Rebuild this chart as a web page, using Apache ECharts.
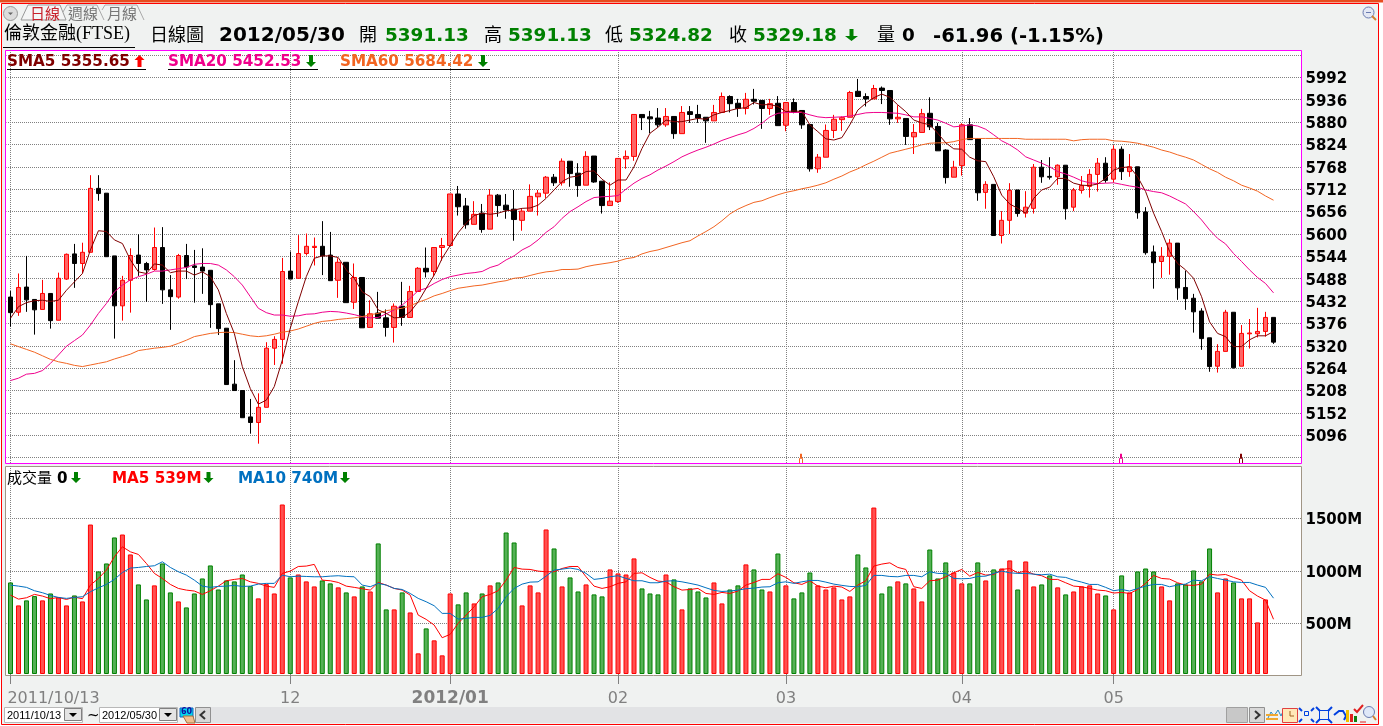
<!DOCTYPE html>
<html>
<head>
<meta charset="utf-8">
<title>FTSE</title>
<style>
  html, body { margin: 0; padding: 0; background: #fff; }
  #main { width: 1383px; height: 726px; }
</style>
<script src="https://cdn.jsdelivr.net/npm/echarts@6/dist/echarts.min.js"></script>
</head>
<body>
<div id="main"></div>
<script>
// [open, close, low, high]
const candles = [
  [5442,5403,5368,5457],[5404,5466,5395,5501],[5467,5435,5405,5545],[5436,5410,5348,5436],[5411,5451,5411,5485],
  [5451,5383,5363,5451],[5384,5489,5384,5503],[5487,5549,5485,5551],[5550,5526,5465,5575],[5526,5554,5501,5578],
  [5554,5714,5554,5747],[5714,5701,5683,5747],[5702,5543,5543,5702],[5545,5420,5338,5545],[5420,5484,5383,5495],
  [5484,5546,5403,5564],[5547,5526,5495,5599],[5526,5510,5430,5530],[5511,5566,5508,5616],[5566,5460,5425,5617],
  [5460,5443,5360,5497],[5442,5546,5438,5550],[5546,5517,5487,5575],[5520,5516,5428,5560],[5517,5507,5450,5564],
  [5509,5423,5365,5509],[5425,5363,5347,5425],[5364,5223,5223,5364],[5224,5208,5208,5284],[5208,5140,5140,5208],
  [5142,5128,5100,5187],[5128,5166,5075,5201],[5166,5314,5166,5329],[5314,5336,5272,5344],[5336,5506,5275,5540],
  [5507,5487,5487,5556],[5489,5551,5489,5597],[5551,5569,5546,5601],[5566,5569,5521,5591],[5569,5545,5497,5632],
  [5547,5483,5483,5605],[5484,5529,5440,5539],[5529,5428,5428,5529],[5429,5491,5412,5526],[5491,5365,5365,5491],
  [5366,5400,5366,5434],[5402,5389,5389,5455],[5390,5366,5343,5411],[5366,5419,5328,5426],[5419,5391,5370,5480],
  [5391,5456,5391,5470],[5456,5514,5456,5517],[5514,5505,5491,5566],[5506,5566,5495,5566],[5566,5571,5533,5590],
  [5571,5700,5571,5700],[5700,5668,5646,5720],[5670,5623,5613,5690],[5624,5649,5624,5682],[5652,5611,5603,5675],
  [5612,5697,5612,5712],[5697,5671,5643,5700],[5672,5660,5638,5700],[5662,5636,5583,5710],[5634,5657,5608,5663],
  [5657,5694,5657,5724],[5693,5702,5646,5710],[5702,5742,5690,5745],[5742,5728,5720,5750],[5728,5782,5721,5789],
  [5782,5751,5718,5782],[5752,5721,5693,5777],[5722,5794,5722,5807],[5795,5730,5728,5795],[5732,5671,5651,5732],
  [5671,5682,5671,5729],[5681,5789,5678,5789],[5788,5794,5763,5809],[5794,5899,5783,5899],[5899,5891,5860,5899],
  [5893,5888,5852,5908],[5890,5873,5867,5915],[5873,5894,5868,5915],[5894,5851,5838,5894],[5851,5904,5851,5920],
  [5906,5899,5878,5920],[5899,5890,5878,5923],[5892,5883,5828,5892],[5883,5904,5883,5923],[5904,5944,5904,5954],
  [5944,5926,5904,5947],[5927,5914,5893,5938],[5914,5937,5899,5953],[5937,5932,5924,5963],[5934,5914,5863,5934],
  [5914,5926,5898,5938],[5927,5871,5871,5945],[5872,5929,5857,5929],[5929,5904,5902,5939],[5909,5873,5863,5909],
  [5874,5763,5756,5874],[5763,5792,5753,5800],[5792,5859,5792,5874],[5859,5887,5840,5898],[5886,5891,5858,5894],
  [5892,5954,5892,5958],[5957,5944,5944,5988],[5944,5938,5919,5952],[5938,5964,5938,5973],[5965,5959,5925,5969],
  [5959,5888,5873,5959],[5888,5892,5878,5922],[5889,5844,5823,5889],[5843,5854,5800,5875],[5854,5901,5854,5913],
  [5902,5868,5860,5942],[5869,5808,5808,5878],[5810,5741,5726,5812],[5742,5767,5742,5783],[5771,5873,5746,5877],
  [5873,5836,5836,5890],[5838,5703,5683,5838],[5704,5724,5663,5732],[5724,5596,5596,5724],[5596,5634,5576,5657],
  [5634,5709,5600,5727],[5710,5651,5643,5710],[5652,5667,5641,5707],[5664,5767,5651,5775],[5767,5743,5728,5785],
  [5744,5742,5736,5792],[5743,5772,5723,5774],[5772,5663,5636,5772],[5667,5710,5657,5715],[5709,5721,5701,5745],
  [5719,5749,5691,5762],[5749,5777,5706,5790],[5777,5734,5728,5792],[5737,5812,5729,5822],[5812,5756,5735,5819],
  [5756,5768,5743,5800],[5768,5653,5638,5768],[5655,5553,5548,5667],[5555,5528,5463,5571],[5531,5544,5490,5567],
  [5544,5577,5498,5587],[5577,5465,5435,5577],[5466,5438,5410,5508],[5439,5405,5353,5450],[5407,5338,5310,5414],
  [5340,5268,5255,5340],[5269,5306,5253,5324],[5306,5404,5306,5410],[5404,5265,5263,5404],[5269,5351,5269,5372],
  [5350,5352,5313,5387],[5350,5356,5341,5415],[5356,5391,5343,5405],[5391.13,5329.18,5324.82,5391.13]
]
const sma5 = [
  5389,5418,5428,5433,5434,5431,5434,5459,5480,5501,5560,5608,5606,5585,5576,5535,5505,5501,5525,5522,
  5503,5507,5507,5497,5505,5493,5460,5401,5351,5268,5213,5174,5184,5218,5284,5364,5430,5493,5539,5545,
  5545,5541,5510,5489,5455,5443,5410,5401,5390,5391,5405,5430,5464,5497,5539,5571,5603,5627,5646,5652,
  5649,5652,5658,5660,5664,5665,5672,5689,5710,5731,5742,5745,5756,5758,5737,5722,5735,5735,5768,5814,
  5852,5867,5885,5881,5881,5885,5889,5887,5898,5904,5909,5914,5916,5929,5923,5924,5919,5906,5908,5906,
  5873,5856,5838,5835,5841,5873,5910,5927,5941,5950,5942,5923,5906,5885,5878,5873,5852,5828,5813,5812,
  5792,5783,5781,5743,5697,5675,5664,5652,5689,5710,5717,5739,5739,5727,5722,5721,5725,5739,5760,5766,
  5768,5743,5706,5652,5606,5556,5526,5510,5489,5443,5380,5351,5343,5318,5318,5335,5345,5345,5355.65
]
const sma20 = [
  5233,5239,5249,5251,5258,5276,5297,5319,5333,5347,5372,5401,5426,5455,5472,5485,5493,5499,5507,5507,
  5510,5513,5516,5524,5526,5526,5522,5510,5493,5472,5443,5414,5403,5397,5397,5394,5395,5399,5400,5404,
  5406,5405,5402,5398,5393,5390,5391,5400,5410,5422,5439,5458,5464,5476,5486,5493,5497,5501,5503,5506,
  5516,5522,5535,5545,5560,5570,5585,5604,5618,5639,5656,5668,5681,5691,5693,5694,5696,5712,5727,5739,
  5748,5760,5770,5781,5793,5802,5810,5817,5825,5834,5841,5848,5854,5864,5877,5893,5902,5904,5904,5904,
  5898,5893,5891,5892,5893,5895,5899,5903,5904,5904,5903,5902,5898,5893,5893,5889,5885,5877,5868,5870,
  5873,5870,5862,5848,5833,5823,5810,5793,5785,5777,5768,5756,5750,5742,5733,5728,5726,5727,5728,5724,
  5720,5717,5710,5706,5703,5695,5685,5675,5656,5635,5610,5589,5575,5551,5531,5510,5491,5476,5452.53
]
const sma60 = [
  5325,5318,5311,5304,5295,5286,5280,5276,5271,5268,5272,5276,5280,5287,5293,5299,5308,5311,5314,5316,
  5319,5326,5334,5343,5347,5351,5353,5354,5353,5349,5345,5343,5345,5349,5354,5357,5362,5369,5376,5381,
  5383,5386,5388,5390,5393,5398,5401,5408,5411,5414,5420,5429,5436,5445,5451,5458,5464,5467,5470,5472,
  5476,5480,5483,5489,5491,5496,5501,5505,5507,5511,5511,5512,5518,5522,5525,5528,5532,5538,5541,5550,
  5556,5560,5566,5572,5578,5583,5595,5606,5618,5633,5650,5662,5671,5679,5683,5691,5698,5704,5708,5713,
  5717,5722,5728,5737,5745,5755,5763,5773,5782,5792,5802,5807,5812,5817,5823,5827,5828,5828,5831,5836,
  5839,5839,5839,5839,5839,5839,5839,5837,5837,5837,5837,5837,5837,5833,5836,5837,5837,5837,5833,5832,
  5830,5827,5822,5817,5810,5805,5798,5792,5785,5774,5763,5754,5742,5733,5722,5715,5707,5695,5684.42
]
const volume = [
  890,671,719,760,719,785,747,671,766,709,1442,995,1071,1319,1347,1157,871,728,862,1071,
  795,709,652,785,928,1052,823,909,900,966,855,738,874,785,1633,938,966,900,852,909,
  881,843,795,757,852,804,1262,633,633,795,604,214,452,338,195,785,681,795,690,785,
  862,890,1366,1271,671,862,795,1395,1214,852,938,804,871,776,757,1014,976,966,1119,833,
  785,776,966,919,633,833,804,747,890,690,823,862,1062,1014,823,804,1166,862,738,795,
  985,862,823,843,728,757,1157,1033,1604,785,852,900,881,833,709,1204,928,1081,985,881,
  881,1081,909,1014,1023,1100,823,1090,852,871,957,843,776,804,852,862,785,766,633,957,
  795,995,1023,995,852,719,881,871,1004,900,1214,795,928,890,738,738,509,728,0
]
// R = red bar, G = green bar, ten days per block
const volColor = (
  'GRGGRGRRGR' + 'RGGGRRGGRG' + 'GRGGGGGGGG' + 'GRRRRGRRRG' + 'GRGRGRGGRG' + 'RRGRRRGGRG' +
  'RGGGRRRRGR' + 'GGRGGRRRRG' + 'GGRGRGGGRR' + 'GGRGGRGRGG' + 'GRRRRRGGRG' + 'GRGRRGGGRR' +
  'GGRGRRGRRG' + 'GRGRRRRGRG' + 'RGGGRRGGGG' + 'GRRGRRRRR'
).split('')
const volMa5 = [
  769,731,744,776,760,735,747,728,750,735,865,928,1008,1135,1230,1182,1157,1071,976,928,
  871,833,817,808,776,811,855,906,919,928,896,881,855,843,976,998,1042,1046,1062,912,
  906,890,855,843,830,817,890,865,833,817,769,579,538,484,363,395,500,579,658,754,
  776,811,912,1033,1017,1014,998,992,992,1023,1042,1042,944,855,833,849,881,896,976,982,
  938,903,896,849,817,823,833,785,776,795,785,808,865,890,919,919,973,938,887,871,
  906,855,839,855,846,804,865,906,1046,1065,1077,1033,1014,849,833,906,912,944,982,1014,
  950,985,960,966,1014,1023,982,998,969,954,919,919,887,855,849,833,817,811,789,795,
  785,823,881,957,928,922,887,865,862,874,969,960,966,938,912,811,760,722,539
]
const volMa10 = [
  865,855,843,811,792,766,747,738,747,754,801,839,871,919,985,1027,1033,1042,1049,1087,
  1033,992,960,912,855,843,852,855,862,852,855,874,881,881,960,944,950,947,944,944,
  950,954,947,944,865,849,881,865,833,823,785,738,706,668,595,595,541,547,557,557,
  576,642,754,833,874,893,896,950,1008,1017,1027,1014,976,919,928,944,954,928,906,906,
  887,887,903,906,896,881,865,839,814,804,808,817,830,836,846,849,887,896,881,896,
  909,909,893,874,862,852,849,862,957,957,947,944,957,957,944,992,976,976,928,925,
  928,947,950,976,998,982,976,976,969,963,969,944,938,912,893,871,871,843,811,823,
  808,833,855,871,871,849,865,874,912,906,944,928,912,896,890,890,865,843,740
]
const priceTicks = [5040,5096,5152,5208,5264,5320,5376,5432,5488,5544,5600,5656,5712,5768,5824,5880,5936,5992,6048]
const priceLabels = [5096,5152,5208,5264,5320,5376,5432,5488,5544,5600,5656,5712,5768,5824,5880,5936,5992]
const volTicks = [500,1000,1500]
const monthIndex = [0,35,55,76,97,119,138]
const monthLabels = ['2011/10/13','12','2012/01','02','03','04','05']
// three empty slots are left after the last day, as in the picture
const days = []
for (let i = 0; i < 162; i++) days.push(String(i))

const UP_RED = '#ff0000', FILL_RED = '#ff6666'
const SANS = '"DejaVu Sans", sans-serif'
const HEAD = '"Liberation Serif", "Noto Sans CJK TC", serif'

function txt(x, y, text, font, fill) {
  return { type: 'text', silent: true, z: 5, style: { x: x, y: y, text: text, font: font, fill: fill, verticalAlign: 'middle' } }
}
function rect(x, y, w, h, fill, stroke, z) {
  return { type: 'rect', silent: true, z: z === undefined ? 5 : z, shape: { x: x, y: y, width: w, height: h }, style: { fill: fill, stroke: stroke || null, lineWidth: 1 } }
}
function line(pts, color, w) {
  return { type: 'polyline', silent: true, z: 5, shape: { points: pts }, style: { stroke: color, lineWidth: w || 1, fill: null } }
}
// little up / down arrow after the values
function arrow(cx, top, bottom, color, half) {
  const up = color === UP_RED
  const hw = half || 5
  const headY = up ? top + 5 : bottom - 5
  const tipY = up ? top : bottom
  const endY = up ? bottom : top
  return { type: 'polygon', silent: true, z: 5, style: { fill: color }, shape: { points: [
    [cx, tipY], [cx + hw, headY], [cx + 2, headY], [cx + 2, endY], [cx - 2, endY], [cx - 2, headY], [cx - hw, headY]
  ] } }
}
// the small marks on the bottom edge of the price panel
function edgeMark(x, color) {
  return line([[x - 1.5, 463], [x - 1.5, 458.5], [x - 0.5, 458.5], [x - 0.5, 454], [x + 0.5, 454], [x + 0.5, 458.5], [x + 1.5, 458.5], [x + 1.5, 463]], color)
}
function combo(x, text) {
  return [
    rect(x + 0.5, 707.5, 78, 15, '#ffffff', '#b8b8b8'),
    txt(x + 3, 716, text, '11px "Liberation Sans", sans-serif', '#000'),
    rect(x + 60.5, 708.5, 17, 12, '#e4e4e4', '#808080'),
    { type: 'polygon', silent: true, z: 6, style: { fill: '#000' }, shape: { points: [[x + 65, 713], [x + 73, 713], [x + 69, 717]] } }
  ]
}

const BIG = 'bold 18.4px ' + SANS
const GREEN = '#008000'
const chrome = [
  // window
  rect(-1, -1, 1385, 3.5, '#e84c1e', null, -20),
  rect(1.5, 3.5, 1377, 721, '#f0f2f1', '#ff0000', -20),
  rect(5.5, 50.5, 1296, 413, '#ffffff', '#ff00ff', -10),
  rect(5.5, 466.5, 1296, 209, '#ffffff', '#a09585', -10),

  // tabs
  { type: 'circle', silent: true, z: 5, shape: { cx: 10.5, cy: 13.5, r: 7 }, style: { fill: '#dcdcdc', stroke: '#999' } },
  { type: 'polygon', silent: true, z: 6, shape: { points: [[8, 12.5], [13, 12.5], [10.5, 15]] }, style: { fill: '#666' } },
  { type: 'polygon', silent: true, z: 4, shape: { points: [[21, 20], [28, 5], [60, 5], [66, 20]] }, style: { fill: '#f4f5f5', stroke: '#999' } },
  line([[63, 12], [67, 5], [97, 5], [104, 20]], '#aaa'),
  line([[102, 10], [105, 5], [137, 5], [144, 20]], '#aaa'),
  txt(30, 13.5, '日線', '15px "Noto Sans CJK TC"', '#c8202a'),
  txt(68, 13.5, '週線', '15px "Noto Sans CJK TC"', '#777'),
  txt(107, 13.5, '月線', '15px "Noto Sans CJK TC"', '#777'),

  // zoom icon top right
  { type: 'circle', silent: true, z: 5, shape: { cx: 1368.5, cy: 12.5, r: 5.5 }, style: { fill: '#e4e8f4', stroke: '#6a7bb0' } },
  line([[1366, 12.5], [1371, 12.5]], '#6a7bb0'),
  line([[1372, 16], [1376, 20]], '#d08030', 2),

  // head line
  txt(4, 34.5, '倫敦金融(FTSE)', '18px ' + HEAD, '#000'),
  line([[3, 47.5], [135, 47.5]], '#000'),
  txt(150, 34.5, '日線圖', '18px "Noto Sans CJK TC"', '#000'),
  txt(219, 36, '2012/05/30', 'bold 20px ' + SANS, '#000'),
  txt(359, 34.5, '開', '18px "Noto Sans CJK TC"', '#000'),
  txt(385, 36.5, '5391.13', BIG, GREEN),
  txt(484, 34.5, '高', '18px "Noto Sans CJK TC"', '#000'),
  txt(508, 36.5, '5391.13', BIG, GREEN),
  txt(605, 34.5, '低', '18px "Noto Sans CJK TC"', '#000'),
  txt(629, 36.5, '5324.82', BIG, GREEN),
  txt(729, 34.5, '收', '18px "Noto Sans CJK TC"', '#000'),
  txt(753, 36.5, '5329.18', BIG, GREEN),
  arrow(851.5, 29, 41, GREEN, 6.5),
  txt(877, 34.5, '量', '18px "Noto Sans CJK TC"', '#000'),
  txt(902, 36.5, '0', BIG, '#000'),
  txt(933, 36.5, '-61.96 (-1.15%)', 'bold 19.6px ' + SANS, '#000'),

  // price legend
  txt(7, 62, 'SMA5 5355.65', 'bold 15.2px ' + SANS, '#800000'),
  arrow(139.5, 55, 67, UP_RED),
  line([[7, 69.5], [146, 69.5]], '#000'),
  txt(168, 62, 'SMA20 5452.53', 'bold 15.2px ' + SANS, '#f0008c'),
  arrow(311, 55, 67, GREEN),
  line([[168, 69.5], [318, 69.5]], '#000'),
  txt(340, 62, 'SMA60 5684.42', 'bold 15.2px ' + SANS, '#f26522'),
  arrow(483, 55, 67, GREEN),
  line([[340, 69.5], [490, 69.5]], '#000'),

  // volume legend
  txt(7, 477, '成交量', '15px "Noto Sans CJK TC"', '#000'),
  txt(57, 479, '0', 'bold 15.2px ' + SANS, '#000'),
  arrow(76, 472, 483, GREEN),
  txt(112, 479, 'MA5 539M', 'bold 15.2px ' + SANS, '#ff0000'),
  arrow(208.5, 472, 483, GREEN),
  txt(238, 479, 'MA10 740M', 'bold 15.2px ' + SANS, '#0070c0'),
  arrow(345, 472, 483, GREEN),

  edgeMark(801, '#f26522'),
  edgeMark(1121, '#f0008c'),
  edgeMark(1241, '#800000'),

  // bottom bar
  ...combo(4, '2011/10/13'),
  txt(87, 716, '~', '15px ' + SANS, '#000'),
  ...combo(99, '2012/05/30'),
  rect(180, 708, 13, 9, '#00d8f0', '#1060c0'),
  txt(181, 712, '60', 'bold 8px ' + SANS, '#1010a0'),
  { type: 'polygon', silent: true, z: 5, shape: { points: [[183, 716], [193, 716], [195, 723], [187, 723]] }, style: { fill: '#f0c090', stroke: '#a07040' } },
  rect(210, 707, 1016, 16, '#e2e3e5', null, 4),
  rect(195.5, 707.5, 15, 15, '#d8d8d8', '#909090'),
  line([[205, 711], [200.5, 715], [205, 719]], '#333', 2),
  rect(1226.5, 707.5, 21, 15, '#c8c8c8', '#a0a0a0'),
  rect(1249.5, 707.5, 15, 15, '#d8d8d8', '#909090'),
  line([[1255, 711], [1259.5, 715], [1255, 719]], '#333', 2),

  // tool icons
  line([[1267, 720], [1271, 712], [1274, 716], [1278, 710], [1281, 716], [1284, 709]], '#2a8ac0', 1),
  rect(1266, 714, 12, 2, '#f0a830'),
  rect(1266, 718, 12, 2, '#f0a830'),
  rect(1282.5, 708.5, 15, 14, '#ffe8b8', '#e04040'),
  line([[1290, 711], [1290, 716], [1294, 716]], '#a06020'),
  rect(1304.5, 711.5, 4, 4, null, '#0040e0'),
  line([[1299, 708], [1302, 711]], '#0040e0', 2),
  line([[1314, 708], [1311, 711]], '#0040e0', 2),
  line([[1299, 722], [1302, 719]], '#0040e0', 2),
  line([[1314, 722], [1311, 719]], '#0040e0', 2),
  rect(1319.5, 710.5, 9, 9, null, '#0040e0'),
  line([[1316, 707], [1320, 711]], '#0040e0', 2),
  line([[1332, 707], [1328, 711]], '#0040e0', 2),
  line([[1316, 723], [1320, 719]], '#0040e0', 2),
  line([[1332, 723], [1328, 719]], '#0040e0', 2),
  line([[1334, 715], [1339, 711], [1343, 711], [1346, 716], [1344, 720]], '#0040e0', 2),
  rect(1346, 710, 3, 12, '#f0c000'),
  rect(1350, 714, 3, 8, '#e02020'),
  rect(1354, 716, 3, 6, '#108010'),
  line([[1354, 709], [1357, 712], [1363, 705]], '#e02020', 2),
  line([[1360, 722], [1366, 722]], '#e02020'),
  { type: 'circle', silent: true, z: 5, shape: { cx: 1369, cy: 712, r: 5.5 }, style: { fill: '#dfe8f8', stroke: '#6a7bb0' } },
  line([[1373, 716], [1376, 720]], '#d08030', 2)
]

const chart = echarts.init(document.getElementById('main'), null, { renderer: 'canvas' })
// the dash has to land on whole pixels, the grids start on half ones
const dotted = { color: '#808080', width: 1, type: [1, 1], dashOffset: 0.5 }
const dottedVol = { color: '#808080', width: 1, type: [1, 1] }
// the picture's value labels sit two pixels lower than a plain middle alignment
const tickText = { padding: [4, 0, 0, 0], color: '#000', fontFamily: SANS, fontSize: 15, fontWeight: 'bold' }

chart.setOption({
  animation: false,
  backgroundColor: '#ffffff',
  tooltip: { show: false },
  graphic: { elements: chrome },
  grid: [
    { left: 6.5, width: 1295, top: 50.5, height: 413 },
    { left: 6.5, width: 1295, top: 466, height: 207.5 }
  ],
  xAxis: [
    {
      type: 'category', gridIndex: 0, data: days,
      axisLine: { show: false }, axisTick: { show: false }, axisLabel: { show: false },
      splitLine: { show: true, alignWithLabel: true, lineStyle: dotted, interval: i => monthIndex.includes(i) }
    },
    {
      type: 'category', gridIndex: 1, data: days,
      axisLine: { show: false },
      axisTick: { show: true, alignWithLabel: true, length: 10.5, lineStyle: { color: '#808080' }, interval: i => monthIndex.includes(i) },
      splitLine: { show: true, alignWithLabel: true, lineStyle: dottedVol, interval: i => monthIndex.includes(i) },
      axisLabel: {
        show: true, margin: 17, color: '#808080', fontFamily: SANS, fontSize: 16,
        hideOverlap: false,
        interval: i => monthIndex.includes(i),
        formatter: v => {
          const k = monthIndex.indexOf(Number(v))
          if (k === 0) return '{first|' + monthLabels[k] + '}'
          if (k === 2) return '{year|' + monthLabels[k] + '}'
          return monthLabels[k]
        },
        rich: {
          first: { padding: [0, 0, 0, 86], color: '#808080', fontFamily: SANS, fontSize: 16 },
          year: { color: '#808080', fontFamily: SANS, fontSize: 17, fontWeight: 'bold' }
        }
      }
    }
  ],
  yAxis: [
    {
      type: 'value', gridIndex: 0, position: 'right', min: 5025.4, max: 6059.1,
      axisLine: { show: false },
      axisTick: { show: false, customValues: priceTicks },
      axisLabel: { show: true, customValues: priceLabels, margin: 4, formatter: v => '{t|' + v + '}', rich: { t: tickText } },
      splitLine: { show: true, lineStyle: dotted }
    },
    {
      type: 'value', gridIndex: 1, position: 'right', min: 22, max: 2000,
      axisLine: { show: false },
      axisTick: { show: false, customValues: volTicks },
      axisLabel: { show: true, customValues: volTicks, margin: 4, formatter: v => '{t|' + v + 'M}', rich: { t: tickText } },
      splitLine: { show: true, lineStyle: dotted }
    }
  ],
  series: [
    {
      type: 'candlestick', name: 'FTSE', xAxisIndex: 0, yAxisIndex: 0, barWidth: 5, data: candles,
      itemStyle: { color: FILL_RED, borderColor: UP_RED, color0: '#000000', borderColor0: '#000000', borderWidth: 1 }
    },
    { type: 'line', name: 'SMA5', xAxisIndex: 0, yAxisIndex: 0, data: sma5, showSymbol: false, z: 5, lineStyle: { color: '#800000', width: 1 } },
    { type: 'line', name: 'SMA20', xAxisIndex: 0, yAxisIndex: 0, data: sma20, showSymbol: false, z: 4, lineStyle: { color: '#f0008c', width: 1 } },
    { type: 'line', name: 'SMA60', xAxisIndex: 0, yAxisIndex: 0, data: sma60, showSymbol: false, z: 4, lineStyle: { color: '#f26522', width: 1 } },
    {
      type: 'bar', name: 'Volume', xAxisIndex: 1, yAxisIndex: 1, barWidth: 5,
      data: volume.map((v, i) => ({
        value: v,
        itemStyle: volColor[i] === 'R'
          ? { color: '#ff5050', borderColor: '#ff0000', borderWidth: 1 }
          : { color: '#55b055', borderColor: '#008000', borderWidth: 1 }
      }))
    },
    { type: 'line', name: 'MA5', xAxisIndex: 1, yAxisIndex: 1, data: volMa5, showSymbol: false, z: 4, lineStyle: { color: '#ff0000', width: 1 } },
    { type: 'line', name: 'MA10', xAxisIndex: 1, yAxisIndex: 1, data: volMa10, showSymbol: false, z: 4, lineStyle: { color: '#0070c0', width: 1 } }
  ]
})
</script>
</body>
</html>
